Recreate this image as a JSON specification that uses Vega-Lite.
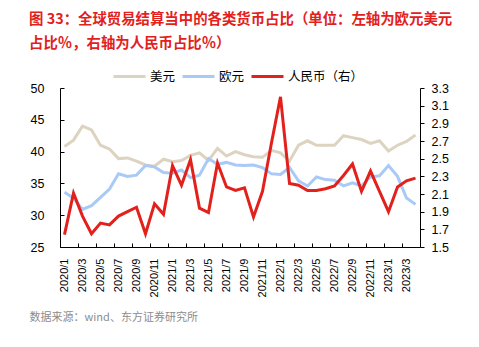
{
  "$schema": "https://vega.github.io/schema/vega-lite/v6.json",
  "width": 360,
  "height": 159,
  "autosize": {"type": "none"},
  "padding": {"left": 60, "top": 88, "right": 59, "bottom": 100},
  "background": "white",
  "title": {
    "text": ["图 33：全球贸易结算当中的各类货币占比（单位：左轴为欧元美元", "占比％，右轴为人民币占比％）"],
    "anchor": "start",
    "frame": "group",
    "dx": -31,
    "offset": 8,
    "fontSize": 14.4,
    "lineHeight": 24,
    "color": "#E3211C",
    "font": "Noto Sans CJK SC",
    "fontWeight": "bold"
  },
  "config": {
    "view": {"stroke": null},
    "axis": {"domainColor": "black", "tickColor": "black", "labelColor": "black", "labelFont": "Liberation Sans", "grid": false, "domainWidth": 1, "tickWidth": 1}
  },
  "data": {
    "values": [
      {"month": "2020/1", "美元": 40.8, "欧元": 33.6, "人民币（右）": 1.64},
      {"month": "2020/2", "美元": 41.8, "欧元": 32.7, "人民币（右）": 2.11},
      {"month": "2020/3", "美元": 44.0, "欧元": 30.9, "人民币（右）": 1.85},
      {"month": "2020/4", "美元": 43.4, "欧元": 31.5, "人民币（右）": 1.65},
      {"month": "2020/5", "美元": 41.0, "欧元": 32.8, "人民币（右）": 1.77},
      {"month": "2020/6", "美元": 40.4, "欧元": 34.1, "人民币（右）": 1.75},
      {"month": "2020/7", "美元": 38.9, "欧元": 36.5, "人民币（右）": 1.85},
      {"month": "2020/8", "美元": 39.0, "欧元": 36.1, "人民币（右）": 1.90},
      {"month": "2020/9", "美元": 38.5, "欧元": 36.3, "人民币（右）": 1.95},
      {"month": "2020/10", "美元": 37.9, "欧元": 37.8, "人民币（右）": 1.65},
      {"month": "2020/11", "美元": 37.7, "欧元": 37.6, "人民币（右）": 1.99},
      {"month": "2020/12", "美元": 38.8, "欧元": 36.7, "人民币（右）": 1.87},
      {"month": "2021/1", "美元": 38.4, "欧元": 36.6, "人民币（右）": 2.42},
      {"month": "2021/2", "美元": 38.6, "欧元": 37.1, "人民币（右）": 2.20},
      {"month": "2021/3", "美元": 39.4, "欧元": 35.9, "人民币（右）": 2.49},
      {"month": "2021/4", "美元": 39.8, "欧元": 36.3, "人民币（右）": 1.94},
      {"month": "2021/5", "美元": 38.6, "欧元": 38.9, "人民币（右）": 1.89},
      {"month": "2021/6", "美元": 40.5, "欧元": 38.0, "人民币（右）": 2.45},
      {"month": "2021/7", "美元": 39.3, "欧元": 38.3, "人民币（右）": 2.18},
      {"month": "2021/8", "美元": 40.0, "欧元": 37.9, "人民币（右）": 2.14},
      {"month": "2021/9", "美元": 39.5, "欧元": 37.8, "人民币（右）": 2.17},
      {"month": "2021/10", "美元": 39.2, "欧元": 37.9, "人民币（右）": 1.84},
      {"month": "2021/11", "美元": 39.1, "欧元": 37.5, "人民币（右）": 2.13},
      {"month": "2021/12", "美元": 40.2, "欧元": 36.5, "人民币（右）": 2.68},
      {"month": "2022/1", "美元": 39.8, "欧元": 36.4, "人民币（右）": 3.20},
      {"month": "2022/2", "美元": 38.5, "欧元": 37.5, "人民币（右）": 2.22},
      {"month": "2022/3", "美元": 41.0, "欧元": 35.4, "人民币（右）": 2.20},
      {"month": "2022/4", "美元": 41.7, "欧元": 34.6, "人民币（右）": 2.14},
      {"month": "2022/5", "美元": 41.0, "欧元": 36.0, "人民币（右）": 2.14},
      {"month": "2022/6", "美元": 41.0, "欧元": 35.6, "人民币（右）": 2.16},
      {"month": "2022/7", "美元": 41.0, "欧元": 35.5, "人民币（右）": 2.19},
      {"month": "2022/8", "美元": 42.5, "欧元": 34.6, "人民币（右）": 2.31},
      {"month": "2022/9", "美元": 42.2, "欧元": 35.1, "人民币（右）": 2.44},
      {"month": "2022/10", "美元": 41.9, "欧元": 34.6, "人民币（右）": 2.13},
      {"month": "2022/11", "美元": 41.3, "欧元": 36.0, "人民币（右）": 2.36},
      {"month": "2022/12", "美元": 41.7, "欧元": 36.2, "人民币（右）": 2.13},
      {"month": "2023/1", "美元": 40.1, "欧元": 37.8, "人民币（右）": 1.90},
      {"month": "2023/2", "美元": 41.0, "欧元": 36.1, "人民币（右）": 2.18},
      {"month": "2023/3", "美元": 41.6, "欧元": 32.7, "人民币（右）": 2.25},
      {"month": "2023/4", "美元": 42.6, "欧元": 31.7, "人民币（右）": 2.28}
    ]
  },
  "transform": [
    {"fold": ["美元", "欧元", "人民币（右）"], "as": ["currency", "value"]}
  ],
  "layer": [
    {
      "transform": [{"filter": "datum.currency !== '人民币（右）'"}],
      "mark": {"type": "line", "strokeJoin": "miter", "strokeCap": "butt"},
      "encoding": {
        "x": {
          "field": "month", "type": "ordinal", "sort": null,
          "scale": {"type": "band", "paddingInner": 0, "paddingOuter": 0},
          "axis": {
            "values": ["2020/1","2020/3","2020/5","2020/7","2020/9","2020/11","2021/1","2021/3","2021/5","2021/7","2021/9","2021/11","2022/1","2022/3","2022/5","2022/7","2022/9","2022/11","2023/1","2023/3"],
            "bandPosition": 0, "labelAngle": -90, "tickSize": -4, "labelPadding": 15, "labelFontSize": 11,
            "title": "数据来源：wind、东方证券研究所", "titleAnchor": "start", "titleAlign": "left", "titleX": -31, "titleY": 70,
            "titleBaseline": "middle", "titleFontSize": 11, "titleFont": "Noto Sans CJK SC", "titleColor": "#8c8c8c", "titleFontWeight": "normal"
          }
        },
        "y": {
          "field": "value", "type": "quantitative",
          "scale": {"domain": [25, 50], "nice": false, "zero": false},
          "axis": {"orient": "left", "values": [25, 30, 35, 40, 45, 50], "tickSize": -4, "labelPadding": 20, "labelFontSize": 12.5, "title": null}
        },
        "color": {
          "field": "currency", "type": "nominal",
          "scale": {"domain": ["美元", "欧元", "人民币（右）"], "range": ["#DDD3C1", "#A9C9F7", "#E3211C"]},
          "legend": {"orient": "none", "legendX": 52, "legendY": -29, "direction": "horizontal", "title": null, "symbolType": "stroke", "symbolSize": 1024, "symbolStrokeWidth": 3, "labelFont": "Noto Sans CJK SC", "labelFontSize": 12.5, "labelColor": "black", "columnPadding": 0, "labelOffset": 3}
        },
        "strokeWidth": {
          "field": "currency", "type": "nominal",
          "scale": {"domain": ["美元", "欧元", "人民币（右）"], "range": [3, 3, 3.6]},
          "legend": {"orient": "none", "legendX": 52, "legendY": -29, "direction": "horizontal", "title": null, "symbolType": "stroke", "symbolSize": 1024, "labelFont": "Noto Sans CJK SC", "labelFontSize": 12.5, "labelColor": "black", "columnPadding": 0, "labelOffset": 3}
        }
      }
    },
    {
      "transform": [{"filter": "datum.currency === '人民币（右）'"}],
      "mark": {"type": "line", "strokeJoin": "miter", "strokeCap": "butt"},
      "encoding": {
        "x": {
          "field": "month", "type": "ordinal", "sort": null,
          "scale": {"type": "band", "paddingInner": 0, "paddingOuter": 0}
        },
        "y": {
          "field": "value", "type": "quantitative",
          "scale": {"domain": [1.5, 3.3], "nice": false, "zero": false},
          "axis": {"orient": "right", "values": [1.5, 1.7, 1.9, 2.1, 2.3, 2.5, 2.7, 2.9, 3.1, 3.3], "format": ".1f", "tickSize": 4, "labelPadding": 7, "labelFontSize": 12.5, "title": null}
        },
        "color": {"field": "currency", "type": "nominal"},
        "strokeWidth": {"field": "currency", "type": "nominal"}
      }
    }
  ],
  "resolve": {"scale": {"y": "independent"}}
}
